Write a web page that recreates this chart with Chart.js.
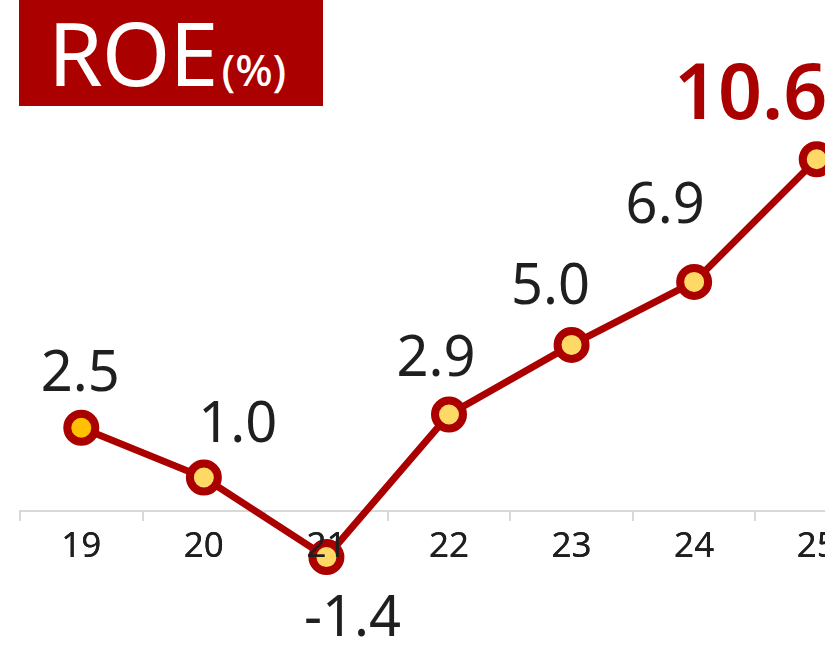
<!DOCTYPE html>
<html>
<head>
<meta charset="utf-8">
<script src="https://cdn.jsdelivr.net/npm/chart.js@4.4.0/dist/chart.umd.min.js"></script>
<style>
html, body { margin: 0; padding: 0; background: #fff; overflow: hidden; }
body { width: 825px; height: 646px; position: relative; font-family: "Noto Sans", "Open Sans", sans-serif; }
#chart { position: absolute; left: 0; top: 0; }
.title {
  position: absolute; left: 19px; top: 0; width: 304px; height: 106px;
  background: #aa0000; color: #fff; box-sizing: border-box; padding-left: 29px;
  white-space: nowrap;
}
.title .big { font-size: 88px; line-height: 104px; letter-spacing: -1px; }
.title .small { font-size: 44px; font-weight: 500; margin-left: 4px; }
</style>
</head>
<body>
<div class="title"><span class="big">ROE</span><span class="small">(%)</span></div>
<canvas id="chart" width="880" height="646"></canvas>
<script>
/* =========================
   DATOS
========================= */

const years = ["19", "20", "21", "22", "23", "24", "25"];
const roe = [2.5, 1.0, -1.4, 2.9, 5.0, 6.9, 10.6];

/* =========================
   ESTILOS
========================= */

const rojo = "#aa0000";
const texto = "#1f1f1f";
const rellenos = ["#ffc000", "#ffd966", "#ffd966", "#ffd966", "#ffd966", "#ffd966", "#ffd966"];

/* desplazamiento de cada etiqueta respecto al punto (centro x, linea base y) */
const desplaz = [[-1, -37], [34, -36], [26, 79], [-13, -39], [-21, -41], [-29, -59], [-66, -40]];

const etiquetas = {
  id: "etiquetas",
  afterDatasetsDraw(chart) {
    const ctx = chart.ctx;
    const pts = chart.getDatasetMeta(0).data;

    /* los años van por encima de los puntos */
    chart.scales.x.drawLabels(chart.chartArea);

    ctx.save();
    ctx.textAlign = "center";
    ctx.textBaseline = "alphabetic";
    pts.forEach((p, i) => {
      const ultimo = i === pts.length - 1;
      ctx.font = ultimo ? "600 77px 'Noto Sans'" : "56px 'Noto Sans'";
      ctx.fillStyle = ultimo ? rojo : texto;
      ctx.fillText(roe[i].toFixed(1), p.x + desplaz[i][0], p.y + desplaz[i][1]);
    });
    ctx.restore();
  }
};

new Chart(document.getElementById("chart"), {
  type: "line",
  data: {
    labels: years,
    datasets: [{
      data: roe,
      borderColor: rojo,
      borderWidth: 7,
      pointRadius: 14,
      pointHoverRadius: 14,
      pointBorderWidth: 8,
      pointBorderColor: rojo,
      pointBackgroundColor: rellenos,
      tension: 0,
      clip: false
    }]
  },
  options: {
    responsive: false,
    animation: false,
    devicePixelRatio: 1,
    layout: { autoPadding: false, padding: { left: 20, right: 2, top: 10, bottom: 6 } },
    plugins: { legend: { display: false }, tooltip: { enabled: false } },
    scales: {
      y: { display: false, min: -3.9, max: 15.1 },
      x: {
        position: { y: 0 },
        offset: true,
        border: { display: true, color: "#d9d9d9", width: 2 },
        grid: { offset: true, drawOnChartArea: false, drawTicks: true, tickLength: 9, color: "#d9d9d9", lineWidth: 2 },
        ticks: { color: texto, padding: 6, font: { family: "'Noto Sans'", size: 35 } }
      }
    }
  },
  plugins: [etiquetas]
});
</script>
</body>
</html>
